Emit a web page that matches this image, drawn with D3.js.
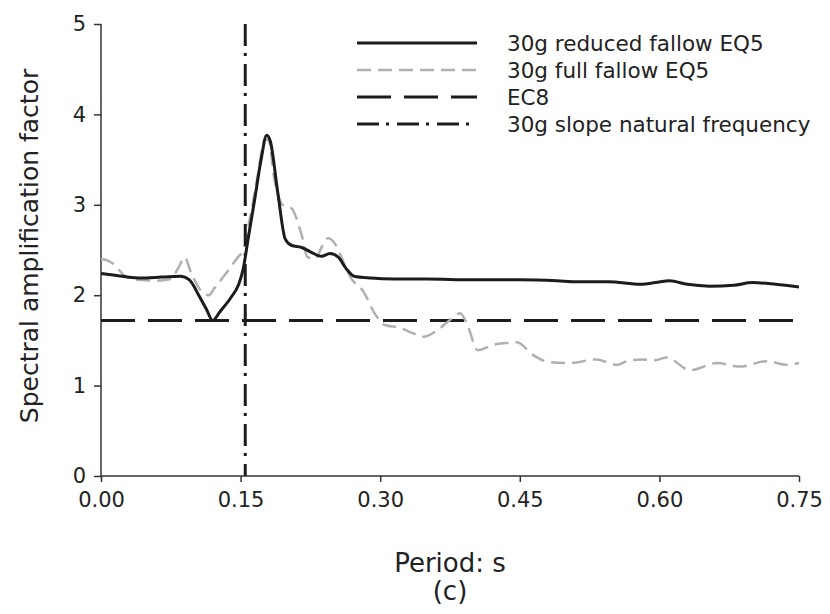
<!DOCTYPE html>
<html><head><meta charset="utf-8">
<script src="https://cdn.jsdelivr.net/npm/d3@7"></script>
<style>
body{margin:0;background:#fff;}
svg text{font-family:"DejaVu Sans",sans-serif;fill:#222;}
</style></head>
<body><svg id="c" width="830" height="614"></svg>
<script>
// ---- data ----
const reducedPeriod = [0.000,0.015,0.040,0.065,0.085,0.095,0.105,0.113,0.120,0.128,0.140,0.148,0.153,0.158,0.165,0.172,0.178,0.182,0.190,0.198,0.205,0.215,0.225,0.237,0.246,0.255,0.263,0.272,0.290,0.315,0.350,0.400,0.450,0.490,0.510,0.545,0.580,0.596,0.611,0.630,0.654,0.680,0.700,0.725,0.750];
const reducedValue  = [2.24,2.22,2.19,2.20,2.21,2.17,2.00,1.85,1.72,1.82,1.98,2.12,2.30,2.62,3.05,3.50,3.77,3.70,3.13,2.62,2.55,2.53,2.48,2.43,2.46,2.42,2.30,2.21,2.19,2.18,2.18,2.17,2.17,2.16,2.15,2.15,2.12,2.14,2.16,2.12,2.10,2.11,2.14,2.12,2.09];
const fullPeriod = [0.000,0.008,0.015,0.025,0.040,0.060,0.075,0.083,0.090,0.096,0.103,0.110,0.116,0.122,0.135,0.147,0.153,0.160,0.168,0.176,0.180,0.186,0.195,0.205,0.210,0.216,0.222,0.230,0.238,0.244,0.252,0.260,0.268,0.282,0.294,0.305,0.321,0.335,0.346,0.361,0.372,0.386,0.393,0.405,0.421,0.435,0.447,0.464,0.482,0.504,0.532,0.555,0.565,0.582,0.595,0.608,0.633,0.662,0.687,0.715,0.737,0.750];
const fullValue  = [2.40,2.38,2.33,2.22,2.17,2.16,2.18,2.30,2.42,2.27,2.12,2.02,2.00,2.08,2.25,2.42,2.50,2.85,3.30,3.72,3.72,3.30,3.00,2.96,2.85,2.65,2.42,2.40,2.55,2.63,2.56,2.38,2.20,2.04,1.80,1.67,1.64,1.58,1.54,1.61,1.70,1.80,1.69,1.39,1.45,1.47,1.48,1.34,1.26,1.25,1.29,1.23,1.27,1.29,1.28,1.31,1.17,1.25,1.21,1.27,1.23,1.25];
const ec8Value = 1.72;
const naturalPeriod = 0.155;
const xTicks = [0, 0.15, 0.30, 0.45, 0.60, 0.75];
const yTicks = [0, 1, 2, 3, 4, 5];
const legendLabels = ["30g reduced fallow EQ5","30g full fallow EQ5","EC8","30g slope natural frequency"];
const xTitle = "Period: s";
const yTitle = "Spectral amplification factor";
const subLabel = "(c)";

// ---- layout ----
const svg = d3.select("#c");
const m = {l:101, t:24, r:31, b:138};
const W = 830, H = 614;
const x = d3.scaleLinear().domain([0,0.75]).range([m.l, W-m.r]);
const y = d3.scaleLinear().domain([0,5]).range([H-m.b, m.t]);

const styles = [
  {stroke:"#1c1c1c", width:3, dash:null},
  {stroke:"#b0b0b0", width:2.5, dash:"14,7"},
  {stroke:"#1c1c1c", width:3, dash:"34,13"},
  {stroke:"#1c1c1c", width:3, dash:"22,7,3,8"}
];

// axes
const yAxis = svg.append("g").attr("transform",`translate(${m.l},0)`)
  .call(d3.axisLeft(y).tickValues(yTicks).tickFormat(d3.format("d")).tickSize(7).tickPadding(8));
const xAxis = svg.append("g").attr("transform",`translate(0,${H-m.b})`)
  .call(d3.axisBottom(x).tickValues(xTicks).tickFormat(d3.format(".2f")).tickSize(6).tickPadding(10));
[yAxis,xAxis].forEach(g=>{
  g.select(".domain").attr("stroke","#333").attr("stroke-width",1.5);
  g.selectAll(".tick line").attr("stroke","#333").attr("stroke-width",1.5);
  g.selectAll(".tick text").attr("font-size",21).attr("fill","#222").attr("font-family","DejaVu Sans");
});
yAxis.select(".domain").attr("d",`M-0,${y(5)}V${y(0)}`);
xAxis.select(".domain").attr("d",`M${x(0)},0H${x(0.75)}`);

// lines
const line = d3.line().x(d=>x(d[0])).y(d=>y(d[1])).curve(d3.curveMonotoneX);
const ec8 = [[0,ec8Value],[0.75,ec8Value]];
svg.append("path").datum(ec8).attr("d",line).attr("fill","none")
  .attr("stroke",styles[2].stroke).attr("stroke-width",styles[2].width).attr("stroke-dasharray",styles[2].dash);
const fullData = fullPeriod.map((p,i)=>[p,fullValue[i]]);
svg.append("path").datum(fullData).attr("d",line).attr("fill","none")
  .attr("stroke",styles[1].stroke).attr("stroke-width",styles[1].width).attr("stroke-dasharray",styles[1].dash);
const redData = reducedPeriod.map((p,i)=>[p,reducedValue[i]]);
svg.append("path").datum(redData).attr("d",line).attr("fill","none")
  .attr("stroke",styles[0].stroke).attr("stroke-width",styles[0].width).attr("stroke-linejoin","round");
svg.append("line").attr("x1",x(naturalPeriod)).attr("x2",x(naturalPeriod)).attr("y1",y(5)).attr("y2",y(0))
  .attr("stroke",styles[3].stroke).attr("stroke-width",styles[3].width).attr("stroke-dasharray",styles[3].dash);

// titles
svg.append("text").attr("x",450).attr("y",572).attr("text-anchor","middle").attr("font-size",26).text(xTitle);
svg.append("text").attr("x",450).attr("y",600).attr("text-anchor","middle").attr("font-size",26).text(subLabel);
svg.append("text").attr("transform",`translate(38,246) rotate(-90)`).attr("text-anchor","middle")
  .attr("font-size",25).text(yTitle);

// legend
const lg = svg.append("g");
legendLabels.forEach((t,i)=>{
  const yy = 43 + i*27;
  const s = styles[i];
  lg.append("line").attr("x1",357).attr("x2",477).attr("y1",yy).attr("y2",yy)
    .attr("stroke",s.stroke).attr("stroke-width",s.width).attr("stroke-dasharray",s.dash);
  lg.append("text").attr("x",507).attr("y",yy).attr("dy","0.36em").attr("font-size",21.5).text(t);
});
</script></body></html>
